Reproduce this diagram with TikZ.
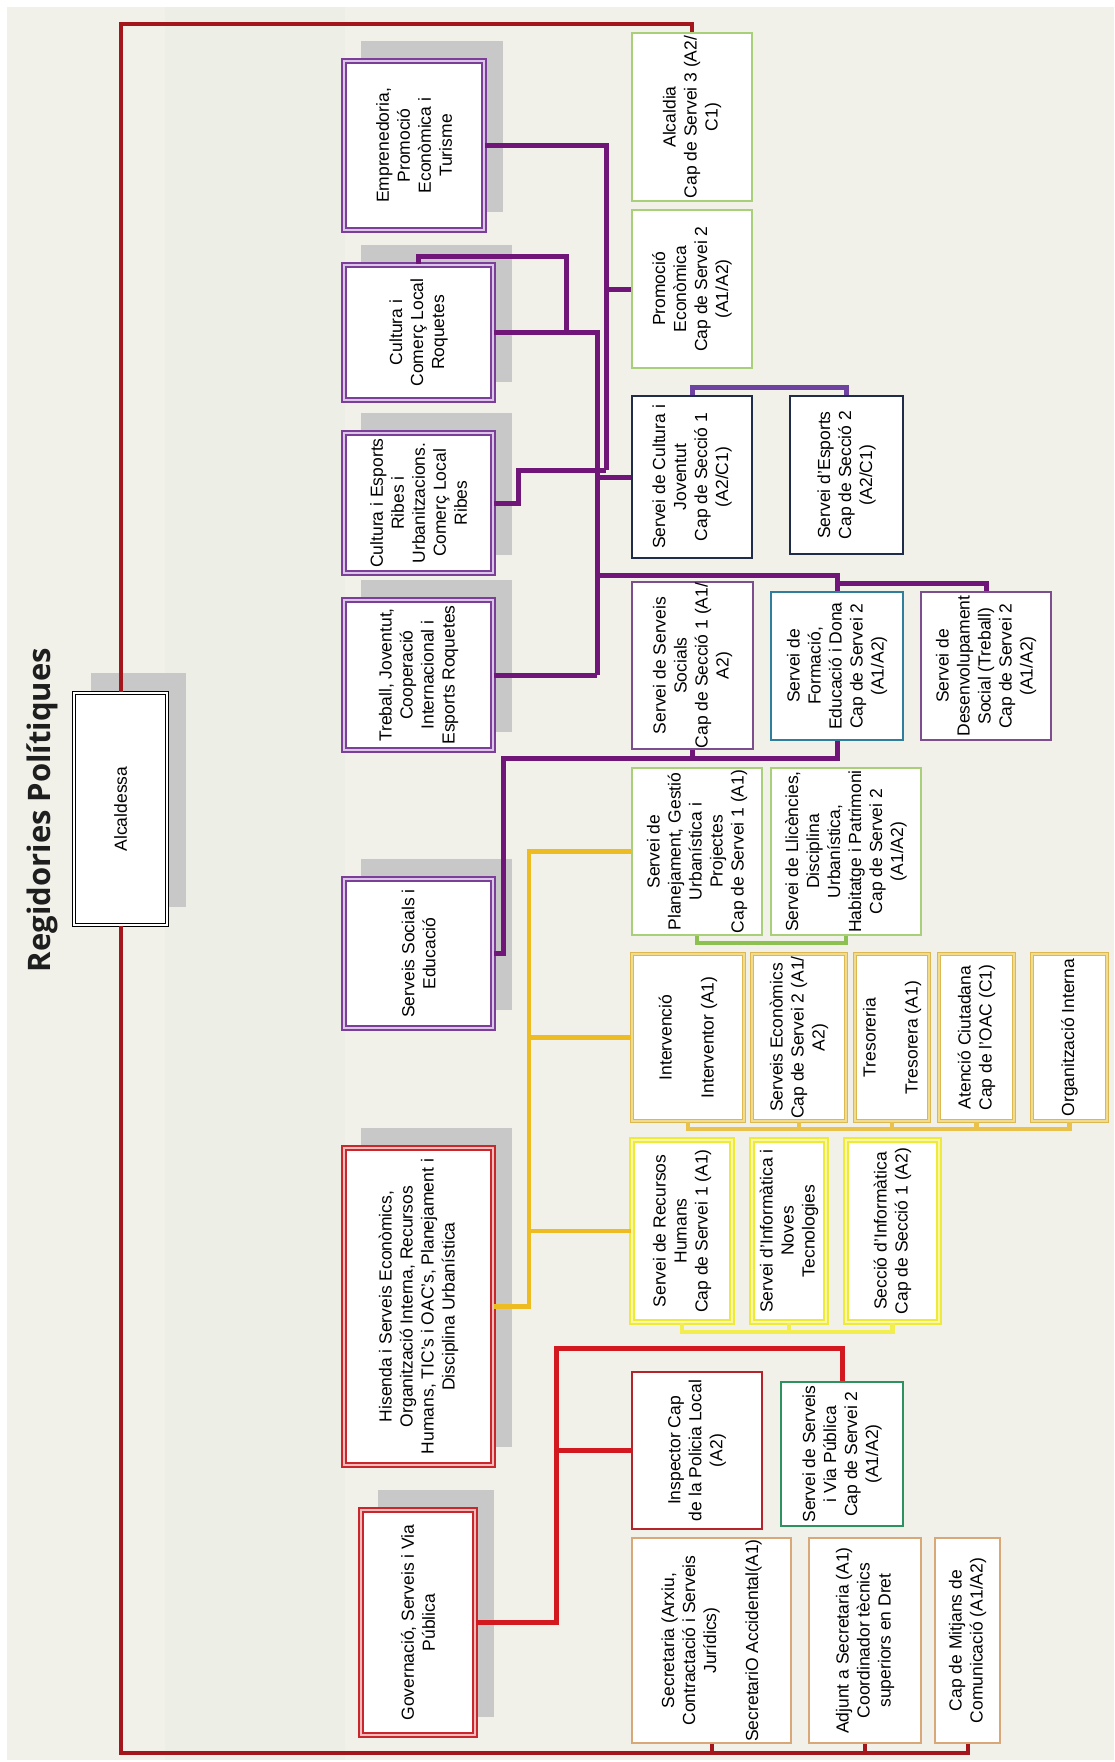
\documentclass[tikz,border=0pt]{standalone}
\usepackage{fontspec}
\setmainfont{Liberation Sans}
\newfontfamily\titolfont{Open Sans}
\usetikzlibrary{backgrounds}

\definecolor{fons}{HTML}{F1F1EA}
\definecolor{franja}{HTML}{EDEEE5}
\definecolor{ombra}{HTML}{C8C8C8}
\definecolor{regpurple}{HTML}{7B3F99}
\definecolor{reglilac}{HTML}{DCC6E8}
\definecolor{regred}{HTML}{C8282C}
\definecolor{regpink}{HTML}{F4BCBC}
\definecolor{boxgreen}{HTML}{A9CF7A}
\definecolor{boxnavy}{HTML}{1F2D4A}
\definecolor{boxlila}{HTML}{7C4E8E}
\definecolor{boxteal}{HTML}{2F7F9C}
\definecolor{boxgold}{HTML}{DDB850}
\definecolor{boxgoldlt}{HTML}{F0DC90}
\definecolor{boxyellow}{HTML}{EEEA3A}
\definecolor{boxyellowlt}{HTML}{FAF7A0}
\definecolor{boxred}{HTML}{B5242A}
\definecolor{boxdkgreen}{HTML}{2E9160}
\definecolor{boxtan}{HTML}{D8A878}
\definecolor{linpurple}{HTML}{6F1678}
\definecolor{linviolet}{HTML}{6E42A0}
\definecolor{linyellow}{HTML}{EDBB22}
\definecolor{lingreen}{HTML}{8CC152}
\definecolor{linbright}{HTML}{F2EE50}
\definecolor{lingold}{HTML}{E8C24A}
\definecolor{linred}{HTML}{D2191F}
\definecolor{linframe}{HTML}{A3161B}
\definecolor{titolgris}{HTML}{1E1E1E}

\begin{document}
\begin{tikzpicture}[x=1pt, y=-1pt,
    caixa/.style ={fill=white, rotate=90, align=center, inner sep=0.5pt, font=\fontsize{17.5}{21}\selectfont},
    mida/.style 2 args ={minimum height=#1pt, minimum width=#2pt},
    titol/.style ={rotate=90, text=titolgris, font=\titolfont\bfseries\fontsize{31}{36}\selectfont},
    alcaldessa/.style ={caixa, draw=black, line width=1.2pt, double=white, double distance=2.4pt},
    regidoria/.style ={caixa, draw=regpurple, line width=1.6pt, double=reglilac, double distance=2.4pt},
    hisenda/.style ={caixa, draw=regred, line width=1.6pt, double=regpink, double distance=2.4pt},
    verd/.style ={caixa, draw=boxgreen, line width=2.5pt},
    blau/.style ={caixa, draw=boxnavy, line width=2.2pt},
    lila/.style ={caixa, draw=boxlila, line width=2pt},
    turquesa/.style ={caixa, draw=boxteal, line width=2.2pt},
    daurat/.style ={caixa, draw=boxgold, line width=1.6pt, double=boxgoldlt, double distance=1.6pt},
    groc/.style ={caixa, draw=boxyellow, line width=2pt, double=boxyellowlt, double distance=2pt},
    vermell/.style ={caixa, draw=boxred, line width=2.5pt},
    verdfosc/.style ={caixa, draw=boxdkgreen, line width=2.2pt},
    taronja/.style ={caixa, draw=boxtan, line width=2.2pt},
    pline/.style ={draw=linpurple, line width=5pt},
    vline/.style ={draw=linviolet, line width=5pt},
    yline/.style ={draw=linyellow, line width=4.5pt},
    gline/.style ={draw=lingreen, line width=4.5pt},
    bline/.style ={draw=linbright, line width=4.5pt},
    oline/.style ={draw=lingold, line width=4.5pt},
    rline/.style ={draw=linred, line width=5pt},
    marc/.style ={draw=linframe, line width=4pt}]
   \useasboundingbox (0,0) rectangle (1114,1762);

   \node[titol] (titol) at (42,810) {Regidories Polítiques};
   \node[alcaldessa, mida={93}{232}] (alc) at (120.5,809) {Alcaldessa};

   % regidories
   \node[regidoria, mida={140}{169}] (emp) at (414,145.5) {Emprenedoria,\\Promoció\\Econòmica i\\Turisme};
   \node[regidoria, mida={149}{135}] (cult) at (418.5,332.5) {Cultura i\\Comerç Local\\Roquetes};
   \node[regidoria, mida={149}{140}] (ribes) at (418.5,503) {Cultura i Esports\\Ribes i\\Urbanitzacions.\\Comerç Local\\Ribes};
   \node[regidoria, mida={149}{150}] (treb) at (418.5,675) {Treball, Joventut,\\Cooperació\\Internacional i\\Esports Roquetes};
   \node[regidoria, mida={149}{149}] (ssed) at (418.5,953.5) {Serveis Socials i\\Educació};
   \node[hisenda, mida={149}{317}] (his) at (418.5,1306.5) {Hisenda i Serveis Econòmics,\\Organització Interna, Recursos\\Humans, TIC's i OAC's, Planejament i\\Disciplina Urbanística};
   \node[hisenda, mida={114}{225}] (gov) at (418,1622.5) {Governació, Serveis i Via\\Pública};

   % serveis
   \node[verd, mida={120}{168}] (alcd) at (692,117) {Alcaldia\\Cap de Servei 3 (A2/\\C1)};
   \node[verd, mida={120}{158}] (prom) at (692,289) {Promoció\\Econòmica\\Cap de Servei 2\\(A1/A2)};
   \node[blau, mida={120}{162}] (scul) at (692,477) {Servei de Cultura i\\Joventut\\Cap de Secció 1\\(A2/C1)};
   \node[blau, mida={113}{158}] (esp) at (846.5,475) {Servei d'Esports\\Cap de Secció 2\\(A2/C1)};
   \node[lila, mida={121}{167}] (ssoc) at (692.5,665.5) {Servei de Serveis\\Socials\\Cap de Secció 1 (A1/\\A2)};
   \node[turquesa, mida={132}{148}] (form) at (837,666) {Servei de\\Formació,\\Educació i Dona\\Cap de Servei 2\\(A1/A2)};
   \node[lila, mida={130}{148}] (desen) at (986,666) {Servei de\\Desenvolupament\\Social (Treball)\\Cap de Servei 2\\(A1/A2)};
   \node[verd, mida={130}{167}] (plan) at (697,851.5) {Servei de\\Planejament, Gestió\\Urbanística i\\Projectes\\Cap de Servei 1 (A1)};
   \node[verd, mida={150}{167}] (llic) at (846,851.5) {Servei de Llicències,\\Disciplina\\Urbanística,\\Habitatge i Patrimoni\\Cap de Servei 2\\(A1/A2)};
   \node[daurat, mida={112}{167}] (intv) at (688,1037.5) {Intervenció\\~\\Interventor (A1)};
   \node[daurat, mida={94}{167}] (secon) at (799,1037.5) {Serveis Econòmics\\Cap de Servei 2 (A1/\\A2)};
   \node[daurat, mida={74}{167}] (tres) at (892,1037.5) {Tresoreria\\~\\Tresorera (A1)};
   \node[daurat, mida={75}{167}] (aten) at (976.5,1037.5) {Atenció Ciutadana\\Cap de l'OAC (C1)};
   \node[daurat, mida={75}{167}] (org) at (1069.5,1037.5) {Organització Interna};
   \node[groc, mida={100}{182}] (rh) at (682,1231) {Servei de Recursos\\Humans\\Cap de Servei 1 (A1)};
   \node[groc, mida={74}{182}] (inf) at (789,1231) {Servei d'Informàtica i\\Noves\\Tecnologies};
   \node[groc, mida={93}{182}] (secc) at (892.5,1231) {Secció d'Informàtica\\Cap de Secció 1 (A2)};
   \node[vermell, mida={130}{157}] (insp) at (697,1450.5) {Inspector Cap\\de la Policia Local\\(A2)};
   \node[verdfosc, mida={122}{144}] (via) at (842,1454) {Servei de Serveis\\i Via Pública\\Cap de Servei 2\\(A1/A2)};
   \node[taronja, mida={159}{205}] (secr) at (711.5,1640.5) {Secretaria (Arxiu,\\Contractació i Serveis\\Jurídics)\\~\\SecretariO Accidental(A1)};
   \node[taronja, mida={112}{205}] (adj) at (865,1640.5) {Adjunt a Secretaria (A1)\\Coordinador tècnics\\superiors en Dret};
   \node[taronja, mida={65}{205}] (mitj) at (967.5,1640.5) {Cap de Mitjans de\\Comunicació (A1/A2)};

   % punts de les linies
   \coordinate (frTL) at (121,24);
   \coordinate (frBL) at (121,1753);
   \coordinate (busE) at (606,470);
   \coordinate (ribK) at (518,470);
   \coordinate (cultK) at (566,256);
   \coordinate (busT) at (597,675);
   \coordinate (busF) at (597,575);
   \coordinate (formK) at (837,583);
   \coordinate (cultEsp) at (692,387);
   \coordinate (busS) at (503,758);
   \coordinate (busH) at (529,851.5);
   \coordinate (busI) at (0,1129);
   \coordinate (busR) at (0,1332);
   \coordinate (busP) at (0,943);
   \coordinate (busG) at (556,1348);

   \draw[marc] (alc.east) -- (alc.east |- frTL) -| (alcd.east);
   \draw[marc] (alc.west) -- (alc.west |- frBL) -| (mitj.west);
   \draw[marc] (secr.west) -- (secr.west |- frBL);
   \draw[marc] (adj.west) -- (adj.west |- frBL);

   \draw[pline] (emp.south) -| (busE);
   \draw[pline] (ribes.south) -| (ribK) -- (busE);
   \draw[pline] (prom.north) -- (prom.north -| busE);
   \draw[pline] (cult.east) |- (cultK) -- (cultK |- cult.south);
   \draw[pline] (cult.south) -| (busT);
   \draw[pline] (treb.south) -- (busT);
   \draw[pline] (scul.north) -- (scul.north -| busT);
   \draw[pline] (busF) -| (form.east);
   \draw[pline] (formK) -| (desen.east);
   \draw[vline] (scul.east) -- (cultEsp) -| (esp.east);
   \draw[pline] (ssed.south) -| (busS) -| (form.west);
   \draw[pline] (ssoc.west) -- (ssoc.west |- busS);

   \draw[yline] (his.south) -| (busH) -- (plan.north);
   \draw[yline] (intv.north) -- (intv.north -| busH);
   \draw[yline] (rh.north) -- (rh.north -| busH);
   \draw[gline] (plan.west) |- (llic.west |- busP) -- (llic.west);
   \draw[oline] (intv.west) |- (org.west |- busI) -- (org.west);
   \draw[oline] (secon.west) -- (secon.west |- busI);
   \draw[oline] (tres.west) -- (tres.west |- busI);
   \draw[oline] (aten.west) -- (aten.west |- busI);
   \draw[bline] (rh.west) |- (secc.west |- busR) -- (secc.west);
   \draw[bline] (inf.west) -- (inf.west |- busR);

   \draw[rline] (gov.south) -| (busG) -| (via.east);
   \draw[rline] (insp.north) -- (insp.north -| busG);

   \begin{scope}[on background layer]
     \fill[white] (0,0) rectangle (1114,1762);
     \fill[fons] (7,7) rectangle (1114,1760);
     \fill[franja] (165,7) rectangle (345,1760);
     \foreach \n in {alc,emp,cult,ribes,treb,ssed,his,gov}
       \fill[ombra] ([shift={(18,-19)}]\n.south west) rectangle ([shift={(18,-19)}]\n.north east);
   \end{scope}
 \end{tikzpicture}
\end{document}
